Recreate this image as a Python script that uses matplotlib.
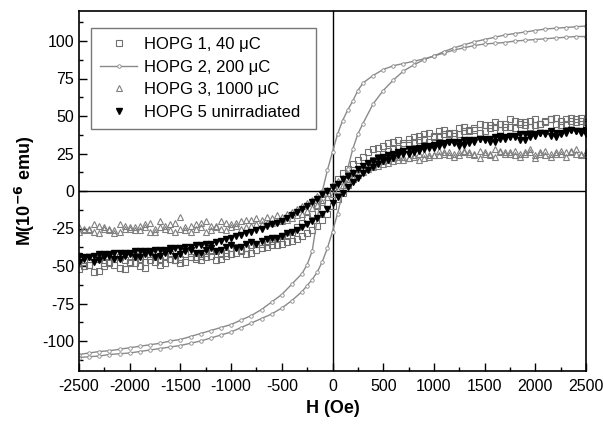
"""
hysteresis loops of irradiated HOPG samples
"""

import numpy as np
import matplotlib
matplotlib.use("Agg")
import matplotlib.pyplot as plt
from matplotlib.ticker import MultipleLocator

plt.rcParams['font.family'] = ['Liberation Sans', 'DejaVu Sans']
plt.rcParams['axes.unicode_minus'] = False

# field grids (Oe) used for the scatter samples
H = list(range(-2500, 2501, 100))      # 51 points
H2 = list(range(-2450, 2451, 100))     # 50 points, in between

# HOPG 1, 40 uC (open squares)
hopg1_down = [-46, -49, -45, -47, -44, -48, -45, -43, -46, -42,
              -45, -41, -43, -40, -42, -38, -39, -36, -35, -33,
              -30, -27, -21, -15, -6, 3, 12, 18, 23, 28,
              30, 33, 32, 36, 38, 37, 41, 39, 43, 41,
              44, 46, 43, 47, 44, 48, 46, 49, 45, 48, 46]
hopg1_up = [-52, -49, -53, -48, -51, -47, -50, -46, -49, -45,
            -48, -44, -46, -43, -45, -42, -40, -41, -38, -36,
            -35, -33, -30, -26, -19, -10, -1, 8, 15, 21,
            25, 28, 31, 33, 35, 36, 38, 37, 40, 42,
            40, 43, 45, 42, 46, 44, 47, 45, 48, 46, 45]
hopg1_down2 = [-47, -44, -48, -45, -46, -43, -47, -44, -43, -46,
               -42, -44, -41, -40, -41, -37, -38, -35, -34, -31,
               -29, -24, -18, -10, -1, 8, 15, 21, 26, 29,
               32, 34, 35, 37, 39, 40, 38, 42, 40, 45,
               42, 45, 48, 45, 47, 45, 48, 47, 49, 47]
hopg1_up2 = [-50, -54, -50, -49, -52, -48, -51, -47, -48, -46,
             -47, -45, -44, -46, -43, -41, -42, -39, -37, -36,
             -34, -32, -28, -23, -15, -5, 4, 12, 18, 23,
             27, 29, 32, 34, 33, 37, 39, 38, 41, 39,
             44, 41, 43, 46, 43, 45, 48, 44, 47, 49]

# HOPG 3, 1000 uC (open triangles)
hopg3_down = [-24, -26, -23, -25, -22, -25, -23, -21, -24, -22,
              -17, -23, -21, -23, -20, -22, -20, -19, -19, -18,
              -17, -14, -10, -6, -1, 4, 9, 13, 16, 19,
              20, 22, 23, 24, 25, 24, 26, 25, 27, 25,
              26, 28, 25, 27, 26, 24, 27, 25, 26, 28, 26]
hopg3_up = [-27, -25, -28, -26, -27, -24, -26, -27, -20, -26,
            -25, -27, -24, -26, -25, -24, -25, -23, -22, -21,
            -20, -18, -15, -11, -7, -2, 4, 9, 13, 16,
            18, 20, 21, 23, 22, 24, 25, 23, 26, 24,
            25, 23, 26, 24, 25, 22, 24, 26, 23, 25, 24]
hopg3_down2 = [-25, -22, -24, -26, -23, -24, -22, -25, -23, -21,
               -24, -22, -20, -23, -21, -21, -19, -18, -17, -16,
               -15, -12, -8, -3, 1, 7, 11, 15, 17, 21,
               21, 23, 22, 25, 24, 27, 24, 26, 26, 27,
               25, 27, 26, 25, 28, 26, 25, 27, 26, 25]
hopg3_up2 = [-26, -27, -25, -28, -25, -26, -24, -27, -25, -27,
             -26, -25, -27, -24, -26, -23, -24, -22, -21, -20,
             -19, -16, -13, -9, -4, 1, 6, 11, 15, 17,
             19, 21, 22, 21, 23, 24, 26, 24, 25, 22,
             24, 26, 25, 23, 26, 25, 23, 25, 27, 24]

# HOPG 5 unirradiated (filled down triangles)
hopg5_down = [-43, -44, -42, -42, -41, -41, -40, -40, -39, -38,
              -38, -37, -36, -35, -33, -31, -29, -27, -25, -22,
              -20, -16, -12, -7, -2, 3, 8, 12, 17, 20,
              23, 25, 27, 28, 30, 31, 32, 33, 34, 34,
              35, 36, 36, 37, 38, 38, 39, 39, 40, 40, 41]
hopg5_up = [-47, -44, -46, -43, -45, -42, -44, -41, -43, -40,
            -42, -39, -41, -38, -39, -36, -37, -34, -33, -31,
            -30, -27, -24, -20, -15, -8, -1, 6, 12, 16,
            20, 22, 25, 26, 28, 29, 31, 32, 31, 33,
            34, 33, 35, 36, 34, 37, 38, 36, 39, 40, 38]
hopg5_down2 = [-44, -43, -42, -41, -41, -40, -40, -39, -39, -38,
               -37, -36, -35, -34, -32, -30, -28, -26, -23, -21,
               -18, -14, -10, -5, 0, 5, 10, 15, 19, 22,
               24, 26, 28, 29, 30, 32, 33, 33, 34, 35,
               35, 37, 36, 38, 38, 39, 40, 39, 41, 40]
hopg5_up2 = [-45, -47, -44, -45, -43, -44, -42, -44, -41, -43,
             -40, -41, -39, -40, -37, -38, -35, -35, -32, -31,
             -28, -26, -22, -18, -12, -4, 3, 9, 14, 18,
             21, 24, 25, 27, 29, 30, 33, 30, 32, 35,
             33, 35, 37, 34, 36, 39, 37, 38, 41, 39]

# HOPG 2, 200 uC (line with small circles)
hopg2_down_H = [2500, 2400, 2300, 2200, 2100, 2000, 1900, 1800, 1700,
                1600, 1500, 1400, 1300, 1200, 1100, 1000, 900, 800,
                700, 600, 500, 400, 300, 250, 200, 150, 100, 50, 0,
                -50, -100, -150, -200, -250, -300, -400, -500, -600,
                -700, -800, -900, -1000, -1100, -1200, -1300, -1400,
                -1500, -1600, -1700, -1800, -1900, -2000, -2100, -2200,
                -2300, -2400, -2500]
hopg2_down_M = [103, 103, 102.5, 102, 101.5, 101, 100.5, 100, 99,
                98.5, 98, 97, 95.5, 94, 92, 90, 88, 86.5,
                85, 83.5, 81, 77, 72, 67, 60, 54, 47, 38, 26,
                14, 0, -18, -40, -49, -55, -62, -69, -74,
                -79, -83, -86, -89, -91, -93, -95, -97,
                -99, -100, -101.5, -102.5, -103.5, -104.5, -105.5, -106.5,
                -107, -108, -109]
hopg2_up_H = [-2500, -2400, -2300, -2200, -2100, -2000, -1900, -1800,
              -1700, -1600, -1500, -1400, -1300, -1200, -1100, -1000,
              -900, -800, -700, -600, -500, -400, -300, -250, -200, -150,
              -100, -50, 0, 50, 100, 150, 200, 250, 300, 400, 500, 600,
              700, 800, 900, 1000, 1100, 1200, 1300, 1400, 1500, 1600,
              1700, 1800, 1900, 2000, 2100, 2200, 2300, 2400, 2500]
hopg2_up_M = [-111, -110.5, -110, -109, -108.5, -108, -107, -106,
              -105, -104, -103, -101.5, -100, -98, -96, -94,
              -91, -88, -85, -82, -78, -73, -67, -63, -59, -54,
              -47, -38, -27, -15, -1, 15, 28, 38, 45, 58, 67, 74,
              80, 84, 87.5, 90, 93, 95.5, 97.5, 99.5, 101, 102.5,
              104, 105, 106, 107, 108, 108.5, 109, 109.5, 110]

labels = ["HOPG 1, 40 \u03bcC", "HOPG 2, 200 \u03bcC",
          "HOPG 3, 1000 \u03bcC", "HOPG 5 unirradiated"]


def main():
    fig = plt.figure(figsize=(6.03, 4.24), dpi=100)
    ax = fig.add_axes([79/603, 53/424, 507/603, 360/424])

    Ha = np.array(H)
    Hb = np.array(H2)

    sq = dict(marker="s", ls="none", ms=4.3, mfc="none", mec="#707070",
              mew=0.8)
    ax.plot(Ha, hopg1_down, label=labels[0], **sq)
    ax.plot(Ha, hopg1_up, **sq)
    for y in (hopg1_down2, hopg1_up2):
        ax.plot(Hb, y, **sq)

    ln = dict(color="#8a8a8a", lw=1.0, marker="o", ms=2.5, mfc="white",
              mec="#8a8a8a", mew=0.6)
    ax.plot(hopg2_down_H, hopg2_down_M, label=labels[1], **ln)
    ax.plot(hopg2_up_H, hopg2_up_M, **ln)

    tr = dict(marker="^", ls="none", ms=4.3, mfc="none", mec="#808080",
              mew=0.8)
    ax.plot(Ha, hopg3_down, label=labels[2], **tr)
    ax.plot(Ha, hopg3_up, **tr)
    for y in (hopg3_down2, hopg3_up2):
        ax.plot(Hb, y, **tr)

    bk = dict(marker="v", ls="none", ms=4.5, color="black")
    ax.plot(Ha, hopg5_down, label=labels[3], **bk)
    ax.plot(Ha, hopg5_up, **bk)
    for y in (hopg5_down2, hopg5_up2):
        ax.plot(Hb, y, **bk)

    ax.axhline(0, color="black", lw=1.0, zorder=1)
    ax.axvline(0, color="black", lw=1.0, zorder=1)

    ax.set_xlim(-2500, 2500)
    ax.set_ylim(-120, 120)
    ax.xaxis.set_major_locator(MultipleLocator(500))
    ax.xaxis.set_minor_locator(MultipleLocator(250))
    ax.yaxis.set_major_locator(MultipleLocator(25))
    ax.yaxis.set_minor_locator(MultipleLocator(12.5))
    ax.tick_params(which="both", direction="in", labelsize=11.5,
                   top=False, right=False, width=1.0)
    ax.tick_params(which="major", length=6)
    ax.tick_params(which="minor", length=3)
    ax.tick_params(axis="x", pad=6)
    for s in ax.spines.values():
        s.set_linewidth(1.2)

    ax.set_xlabel("H (Oe)", fontsize=13, fontweight="bold", labelpad=4)
    ax.set_ylabel("M(10$^{\\mathbf{-6}}$ emu)", fontsize=13,
                  fontweight="bold", labelpad=4)

    w = (316 - 91) / 507
    hgt = (129 - 28) / 360
    top = (371 - 28) / 360
    leg = ax.legend(loc="upper left", bbox_to_anchor=(0.024, top - hgt, w, hgt),
                    mode="expand", borderaxespad=0, fancybox=False,
                    fontsize=12, handlelength=2.2, handletextpad=0.4,
                    labelspacing=0.45, borderpad=0.55)
    leg.get_frame().set_edgecolor("#555555")
    leg.get_frame().set_linewidth(1.0)

    fig.savefig("out.png", dpi=100)


main()
